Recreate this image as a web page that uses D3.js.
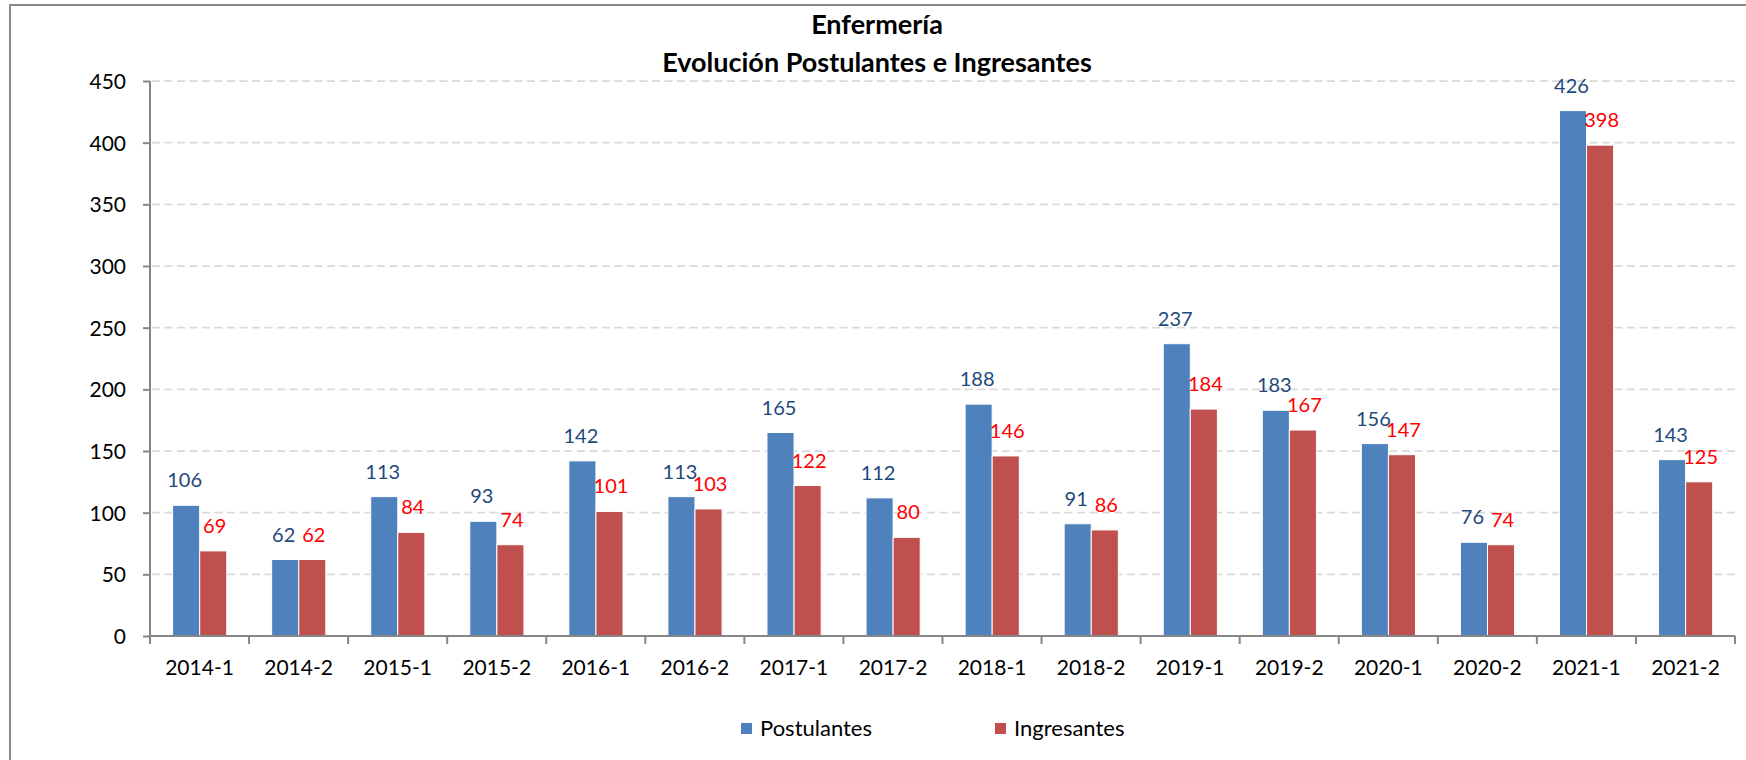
<!DOCTYPE html>
<html>
<head>
<meta charset="utf-8">
<script src="https://cdn.jsdelivr.net/npm/d3@7"></script>
<style>
  html, body { margin: 0; padding: 0; background: #fff; }
  svg { display: block; }
</style>
</head>
<body>
<div id="chart"></div>
<script>
const categories = ["2014-1","2014-2","2015-1","2015-2","2016-1","2016-2","2017-1","2017-2","2018-1","2018-2","2019-1","2019-2","2020-1","2020-2","2021-1","2021-2"];
const postulantes = [106, 62, 113, 93, 142, 113, 165, 112, 188, 91, 237, 183, 156, 76, 426, 143];
const ingresantes = [69, 62, 84, 74, 101, 103, 122, 80, 146, 86, 184, 167, 147, 74, 398, 125];
const seriesNames = ["Postulantes", "Ingresantes"];
const yTicks = [0, 50, 100, 150, 200, 250, 300, 350, 400, 450];
const titleLines = ["Enfermería", "Evolución Postulantes e Ingresantes"];

const W = 1746, H = 760;
const FONT = "Lato, 'Open Sans', sans-serif";
const barColors = ["#4F81BD", "#C0504D"];
const labelColors = ["#1F497D", "#FF0000"];
const axisColor = "#868686";

const svg = d3.select("#chart").append("svg").attr("width", W).attr("height", H);

// chart border
svg.append("rect")
  .attr("x", 10).attr("y", 5).attr("width", W + 20).attr("height", H + 20)
  .attr("fill", "#fff").attr("stroke", "#898989").attr("stroke-width", 2);

const plot = { left: 150, right: 1735, top: 81, bottom: 636 };

const x0 = d3.scaleBand().domain(categories).range([plot.left, plot.right]).padding(0);
const x1 = d3.scaleBand().domain([0, 1]).range([22.6, x0.bandwidth() - 22.3]).padding(0);
const y = d3.scaleLinear().domain([0, 450]).range([plot.bottom, plot.top]);

// gridlines
svg.append("g").selectAll("line").data(yTicks.filter(d => d > 0)).join("line")
  .attr("x1", plot.left + 2).attr("x2", plot.right)
  .attr("y1", d => y(d)).attr("y2", d => y(d))
  .attr("stroke", "#D9D9D9").attr("stroke-width", 1.75)
  .attr("stroke-dasharray", "8,4.5");

// title
const title = svg.append("text")
  .attr("x", 877).attr("text-anchor", "middle")
  .attr("font-family", FONT).attr("font-weight", "bold").attr("font-size", 27).attr("fill", "#000");
title.selectAll("tspan").data(titleLines).join("tspan")
  .attr("x", 877).attr("y", (d, i) => 34 + i * 38).text(d => d);

// bars
const series = [postulantes, ingresantes];
const groups = svg.append("g").selectAll("g").data(categories).join("g")
  .attr("transform", d => `translate(${x0(d)},0)`);

groups.selectAll("rect").data((c, i) => series.map((s, k) => ({ k, v: s[i] }))).join("rect")
  .attr("x", d => x1(d.k)).attr("width", x1.bandwidth())
  .attr("y", d => y(d.v)).attr("height", d => y(0) - y(d.v))
  .attr("fill", d => barColors[d.k]).attr("stroke", "#fff").attr("stroke-width", 1);

groups.selectAll("text").data((c, i) => series.map((s, k) => ({ k, v: s[i] }))).join("text")
  .attr("x", d => x1(d.k) + x1.bandwidth() / 2 + (d.k === 0 ? -1.5 : 1.5))
  .attr("y", d => y(d.v) - 18)
  .attr("text-anchor", "middle")
  .attr("font-family", FONT).attr("font-size", 20)
  .attr("fill", d => labelColors[d.k])
  .text(d => d.v);

// y axis
const yAxis = d3.axisLeft(y).tickValues(yTicks).tickSize(7).tickPadding(17);
const gy = svg.append("g").attr("transform", `translate(${plot.left},0)`).call(yAxis);
gy.select(".domain").attr("stroke", axisColor).attr("stroke-width", 2).attr("d", `M0,${plot.top}V${plot.bottom}`);
gy.selectAll(".tick line").attr("stroke", axisColor).attr("stroke-width", 2);
gy.selectAll(".tick text").attr("font-family", FONT).attr("font-size", 21).attr("fill", "#000").attr("dy", "0.35em");

// x axis
const xAxis = d3.axisBottom(x0).tickSize(0).tickPadding(0);
const gx = svg.append("g").attr("transform", `translate(0,${plot.bottom})`).call(xAxis);
gx.select(".domain").attr("stroke", axisColor).attr("stroke-width", 2).attr("d", `M${plot.left},0H${plot.right}`);
gx.selectAll(".tick text").attr("font-family", FONT).attr("font-size", 21).attr("fill", "#000")
  .attr("y", 39).attr("dy", 0);
// category boundary ticks
const bounds = categories.map(c => x0(c)).concat([plot.right]);
gx.append("g").selectAll("line").data(bounds).join("line")
  .attr("x1", d => d).attr("x2", d => d).attr("y1", 0).attr("y2", 8)
  .attr("stroke", axisColor).attr("stroke-width", 2);

// legend
const legendItems = [
  { name: seriesNames[0], color: barColors[0], x: 741 },
  { name: seriesNames[1], color: barColors[1], x: 995 }
];
const lg = svg.append("g").selectAll("g").data(legendItems).join("g")
  .attr("transform", d => `translate(${d.x},723)`);
lg.append("rect").attr("width", 11).attr("height", 11).attr("fill", d => d.color);
lg.append("text").attr("x", 19).attr("y", 13)
  .attr("font-family", FONT).attr("font-size", 22).attr("fill", "#000").text(d => d.name);
</script>
</body>
</html>
